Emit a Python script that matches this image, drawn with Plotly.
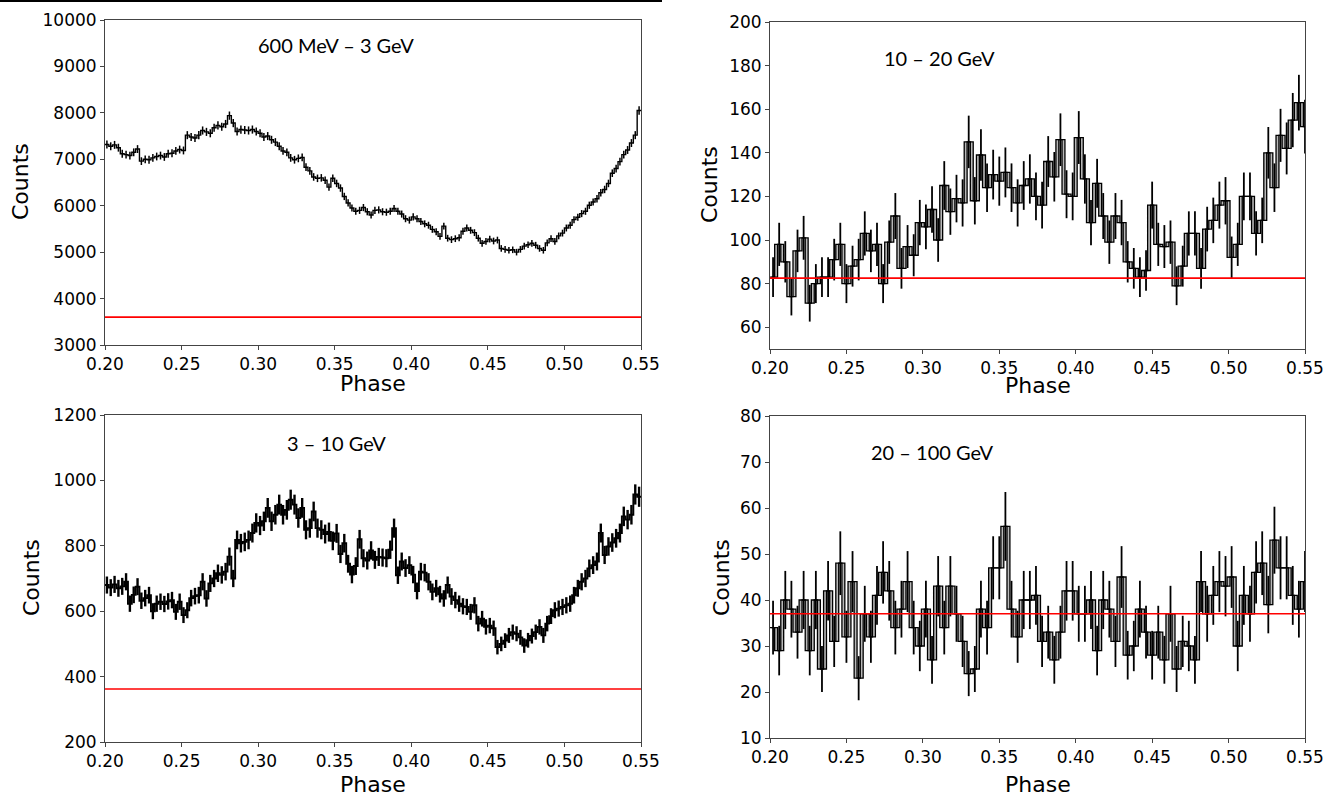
import numpy as np
import plotly.graph_objects as go

W, H = 1327, 798

# ---------------- data ----------------
phase_ticks = [0.20, 0.25, 0.30, 0.35, 0.40, 0.45, 0.50, 0.55]

# 600 MeV - 3 GeV, bins of 0.0025 starting at 0.200
counts_low = [
    7320, 7280, 7310, 7250, 7120, 7100, 7080, 7150, 7220, 6960,
    7000, 6990, 7030, 7060, 7080, 7050, 7120, 7130, 7180, 7210,
    7190, 7520, 7480, 7460, 7520, 7620, 7590, 7560, 7680, 7730,
    7700, 7760, 7940, 7780, 7600, 7640, 7630, 7620, 7640, 7600,
    7560, 7480, 7500, 7420, 7370, 7280, 7180, 7150, 7030, 6990,
    7020, 7040, 6830, 6750, 6620, 6590, 6600, 6550, 6400, 6590,
    6480, 6380, 6200, 6060, 5950, 5880, 5900, 5960, 5870, 5800,
    5900, 5910, 5870, 5860, 5880, 5940, 5880, 5820, 5720, 5690,
    5760, 5720, 5660, 5610, 5580, 5490, 5440, 5340, 5560, 5300,
    5270, 5290, 5310, 5450, 5520, 5470, 5420, 5300, 5190, 5230,
    5280, 5240, 5260, 5080, 5060, 5040, 5050, 5000, 5060, 5130,
    5160, 5190, 5150, 5080, 5040, 5200, 5290, 5230, 5350, 5410,
    5520, 5580, 5700, 5750, 5830, 5880, 6010, 6080, 6150, 6280,
    6350, 6480, 6700, 6800, 6950, 7100, 7200, 7350, 7520, 8050,
]

# 3 - 10 GeV, bins of 0.0025 starting at 0.200
counts_mid = [
    680, 672, 682, 670, 676, 690, 623, 650, 675, 632,
    640, 649, 600, 623, 629, 622, 630, 634, 598, 629,
    588, 603, 640, 646, 649, 690, 639, 685, 700, 716,
    711, 721, 767, 700, 818, 808, 812, 818, 839, 870,
    862, 875, 916, 875, 895, 926, 895, 910, 941, 926,
    885, 916, 849, 854, 905, 854, 849, 836, 842, 815,
    838, 775, 808, 745, 712, 738, 820, 762, 755, 786,
    757, 766, 764, 762, 788, 854, 710, 752, 732, 741,
    712, 662, 721, 718, 690, 659, 670, 652, 639, 680,
    645, 634, 623, 615, 613, 598, 618, 562, 577, 552,
    556, 548, 490, 500, 510, 526, 536, 531, 520, 495,
    511, 524, 536, 552, 526, 562, 585, 603, 608, 613,
    618, 623, 649, 670, 690, 700, 731, 741, 752, 839,
    772, 798, 810, 823, 839, 890, 880, 895, 957, 950,
]

# 10 - 20 GeV, bins of 0.004 starting at 0.200
counts_high = [
    83, 98, 90, 74, 95, 101, 71, 80, 83, 83,
    91, 98, 80, 88, 91, 103, 95, 98, 80, 99,
    111, 87, 97, 93, 108, 106, 114, 100, 125, 113,
    119, 117, 145, 118, 139, 124, 130, 127, 131, 124,
    117, 125, 128, 120, 116, 136, 129, 146, 121, 120,
    147, 128, 108, 126, 111, 99, 111, 108, 90, 87,
    83, 86, 116, 98, 97, 99, 79, 88, 103, 103,
    87, 105, 109, 116, 118, 92, 98, 120, 120, 103,
    109, 140, 124, 148, 142, 155, 163, 152,
]

# 20 - 100 GeV, bins of 0.004 starting at 0.200
counts_vhigh = [
    34, 29, 40, 38, 33, 40, 29, 40, 25, 42,
    31, 48, 32, 44, 23, 37, 32, 41, 46, 42,
    34, 38, 44, 34, 30, 38, 27, 43, 34, 43,
    37, 31, 24, 25, 38, 34, 47, 47, 56, 38,
    32, 40, 40, 41, 31, 33, 27, 33, 42, 42,
    37, 37, 40, 29, 40, 38, 31, 45, 28, 30,
    38, 33, 28, 33, 27, 37, 25, 31, 30, 27,
    44, 37, 41, 44, 43, 45, 30, 41, 37, 46,
    48, 39, 53, 47, 47, 41, 38, 44,
]

titles = ["600 MeV \u2013 3 GeV", "10 \u2013 20 GeV", "3 \u2013 10 GeV", "20 \u2013 100 GeV"]
background_levels = [3600, 82.5, 362, 37]
y_ranges = [[3000, 10000], [50, 200], [200, 1200], [10, 80]]
y_ticks = [
    [3000, 4000, 5000, 6000, 7000, 8000, 9000, 10000],
    [60, 80, 100, 120, 140, 160, 180, 200],
    [200, 400, 600, 800, 1000, 1200],
    [10, 20, 30, 40, 50, 60, 70, 80],
]
bin_widths = [0.0025, 0.004, 0.0025, 0.004]
phase_start = 0.20

# ---------------- layout geometry (pixels) ----------------
# plot areas: (left, right, top, bottom)
boxes = [(105, 641, 20, 345), (770, 1305, 22, 349), (105, 641, 415, 742), (770, 1305, 416, 738)]
title_pos = [(336, 45), (939, 58), (336, 443), (932, 452)]
counts_pos = [(20, 182), (710, 185), (31, 578), (721, 578)]
phase_pos = [(373, 383), (1038, 386), (373, 784), (1038, 784)]
series = [counts_low, counts_high, counts_mid, counts_vhigh]
line_widths = [1.4, 1.3, 1.9, 1.3]
err_widths = [1.5, 1.8, 2.4, 1.8]
sparse = [False, True, False, True]

TICKFONT = dict(family="DejaVu Sans, sans-serif", size=17, color="black")
LABELFONT = dict(family="DejaVu Sans, sans-serif", size=22, color="black")
TITLEFONT = dict(family="Lato, Carlito, sans-serif", size=20, color="black")

fig = go.Figure()
annotations = []

for k in range(4):
    vals = np.array(series[k], dtype=float)
    w = bin_widths[k]
    n = len(vals)
    edges = phase_start + w * np.arange(n + 1)
    centers = phase_start + w * (np.arange(n) + 0.5)
    yext = np.append(vals, vals[-1])
    err = np.sqrt(vals)
    ax = "" if k == 0 else str(k + 1)
    xa, ya = "x" + ax, "y" + ax

    if sparse[k]:
        d = 0.00095
        fig.add_trace(go.Scatter(x=edges - d, y=yext, mode="lines", xaxis=xa, yaxis=ya,
                                 line=dict(shape="hv", color="black", width=line_widths[k]),
                                 hoverinfo="skip"))
        fig.add_trace(go.Scatter(x=edges + d, y=yext, mode="lines", xaxis=xa, yaxis=ya,
                                 line=dict(shape="hv", color="black", width=line_widths[k]),
                                 fill="tonexty", fillcolor="rgba(185,185,185,1)",
                                 hoverinfo="skip"))
    else:
        fig.add_trace(go.Scatter(x=edges, y=yext, mode="lines", xaxis=xa, yaxis=ya,
                                 line=dict(shape="hv", color="black", width=line_widths[k]),
                                 hoverinfo="skip"))

    fig.add_trace(go.Scatter(x=centers, y=vals, mode="markers", xaxis=xa, yaxis=ya,
                             marker=dict(size=1, color="rgba(0,0,0,0)"),
                             error_y=dict(type="data", array=err, visible=True,
                                          color="black", thickness=err_widths[k], width=0),
                             hoverinfo="skip"))

    fig.add_trace(go.Scatter(x=[0.20, 0.55], y=[background_levels[k]] * 2, mode="lines",
                             xaxis=xa, yaxis=ya, line=dict(color="red", width=1.6),
                             hoverinfo="skip"))

    l, r, t, b = boxes[k]
    axis_common = dict(showline=True, linecolor="#444", linewidth=1, mirror=True,
                       ticks="outside", ticklen=4, tickcolor="#444", showgrid=False,
                       zeroline=False, tickfont=TICKFONT, automargin=False)
    fig.layout["xaxis" + ax] = dict(domain=[l / W, r / W], anchor=ya, range=[0.20, 0.55],
                                    tickvals=phase_ticks,
                                    ticktext=["%.2f" % v for v in phase_ticks], **axis_common)
    fig.layout["yaxis" + ax] = dict(domain=[1 - b / H, 1 - t / H], anchor=xa,
                                    range=y_ranges[k], tickvals=y_ticks[k],
                                    ticktext=[str(v) for v in y_ticks[k]], **axis_common)

    tx, ty = title_pos[k]
    annotations.append(dict(text=titles[k], x=tx / W, y=1 - ty / H, xref="paper", yref="paper",
                            showarrow=False, font=TITLEFONT, xanchor="center", yanchor="middle"))
    cx, cy = counts_pos[k]
    annotations.append(dict(text="Counts", x=cx / W, y=1 - cy / H, xref="paper", yref="paper",
                            showarrow=False, font=LABELFONT, textangle=-90,
                            xanchor="center", yanchor="middle"))
    phx, phy = phase_pos[k]
    annotations.append(dict(text="Phase", x=phx / W, y=1 - phy / H, xref="paper", yref="paper",
                            showarrow=False, font=LABELFONT, xanchor="center", yanchor="middle"))

fig.update_layout(
    width=W, height=H, margin=dict(l=0, r=0, t=0, b=0),
    paper_bgcolor="white", plot_bgcolor="white", showlegend=False,
    annotations=annotations,
    shapes=[dict(type="line", xref="paper", yref="paper", x0=0, x1=662 / W,
                 y0=1 - 1 / H, y1=1 - 1 / H, line=dict(color="black", width=2))],
)

fig.write_html("out.html")
